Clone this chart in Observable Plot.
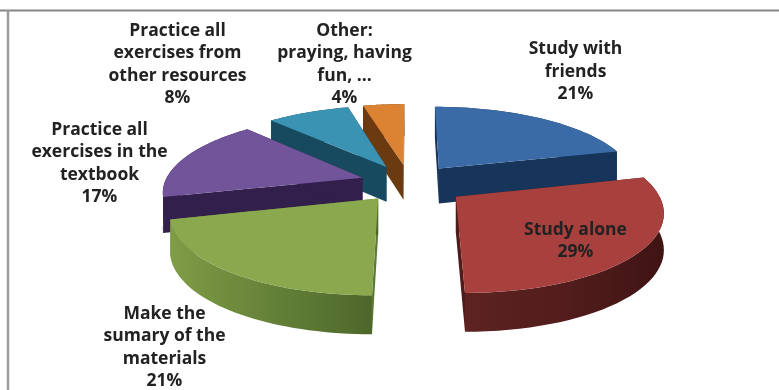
<!DOCTYPE html>
<html><head><meta charset="utf-8">
<script src="https://cdn.jsdelivr.net/npm/d3@7"></script>
<script src="https://cdn.jsdelivr.net/npm/@observablehq/plot@0.6"></script>
<style>html,body{margin:0;padding:0;background:#fff}svg{display:block}</style>
</head><body><div id="chart"></div>
<script>
const names = ["Study with\nfriends","Study alone","Make the\nsumary of the\nmaterials","Practice all\nexercises in the\ntextbook","Practice all\nexercises from\nother resources","Other:\npraying, having\nfun, ..."];
const values = [21,29,21,17,8,4];
const topColors = ["#3b6ba6","#a8403e","#8aa84e","#71549a","#3b93b3","#dc8333"];
const wallColors = ["#17355a","#4f1c1b","#5d7a34","#321f4c","#174a5f","#6b3a10"];
const explodes = [0.25,0.288,0.25,0.25,0.25,0.25];
const labelX = [575,575,164,99,177,344];
const labelY = [69,238.5,345,161,62,62];
const drawOrder = [5,4,3,0,2,1];

// projection of the pie disc
const cx = 409, cy = 182.5, R = 198, tilt = 0.383, persp = 0.16, depth = 35.5;
const project = (X, Y, z) => {
  const s = 1 / (1 + persp * Y);
  return {x: cx + R * X * s, y: cy - R * tilt * Y * s + z * depth * (1 - 0.08 * Y)};
};
const arcs = d3.pie().value(d => d).sort(null)(values);
const polys = [];
drawOrder.forEach((i, order) => {
  const a = arcs[i], m = (a.startAngle + a.endAngle) / 2;
  const ox = explodes[i] * Math.sin(m), oy = explodes[i] * Math.cos(m);
  const rim = d3.range(0, 41).map(k => {
    const t = a.startAngle + (a.endAngle - a.startAngle) * k / 40;
    return [ox + Math.sin(t), oy + Math.cos(t)];
  });
  const apex = [ox, oy];
  const add = (part, pts, fill) => pts.forEach(p => polys.push({id: `${order}-${part}`, x: p.x, y: p.y, fill}));
  const up = p => project(p[0], p[1], 0), dn = p => project(p[0], p[1], 1);
  add("arc", [...rim.map(up), ...rim.slice().reverse().map(dn)], i === 1 ? "url(#g1)" : i === 2 ? "url(#g2)" : wallColors[i]);
  add("start", [up(apex), up(rim[0]), dn(rim[0]), dn(apex)], wallColors[i]);
  add("end", [up(apex), up(rim[40]), dn(rim[40]), dn(apex)], i === 2 ? "url(#g2)" : wallColors[i]);
  add("top", [up(apex), ...rim.map(up)], topColors[i]);
});
const labels = names.map((n, i) => ({text: `${n}\n${values[i]}%`, x: labelX[i], y: labelY[i]}));

const defs = () => {
  const d = d3.create("svg:defs");
  const grad = (id, stops) => {
    const g = d.append("linearGradient").attr("id", id);
    stops.forEach(([o, c]) => g.append("stop").attr("offset", o).attr("stop-color", c));
  };
  grad("g1", [[0, "#5c2321"], [0.5, "#521d1c"], [1, "#3f1413"]]);
  grad("g2", [[0, "#7f9c46"], [0.55, "#627f37"], [1, "#4d672a"]]);
  return d.node();
};

const chart = Plot.plot({
  width: 779, height: 390, margin: 0,
  x: {domain: [0, 779], range: [0, 779], axis: null},
  y: {domain: [0, 390], range: [0, 390], axis: null},
  style: {background: "#fff", fontFamily: "'Open Sans', sans-serif", filter: "blur(0.4px)"},
  marks: [
    defs,
    Plot.ruleY([10], {stroke: "#858585", strokeWidth: 2}),
    Plot.ruleX([7.5], {stroke: "#9a9a9a", strokeWidth: 2.5, y1: 10, y2: 390}),
    ...d3.groups(polys, d => d.id).map(([, pts]) => Plot.line(pts, {x: "x", y: "y", fill: pts[0].fill, stroke: "none", curve: "linear-closed"})),
    Plot.text(labels, {x: "x", y: "y", text: "text", fontSize: 17.5, fontWeight: 700, fill: "#222", lineHeight: 1.286})
  ]
});
document.getElementById("chart").append(chart);
</script></body></html>
